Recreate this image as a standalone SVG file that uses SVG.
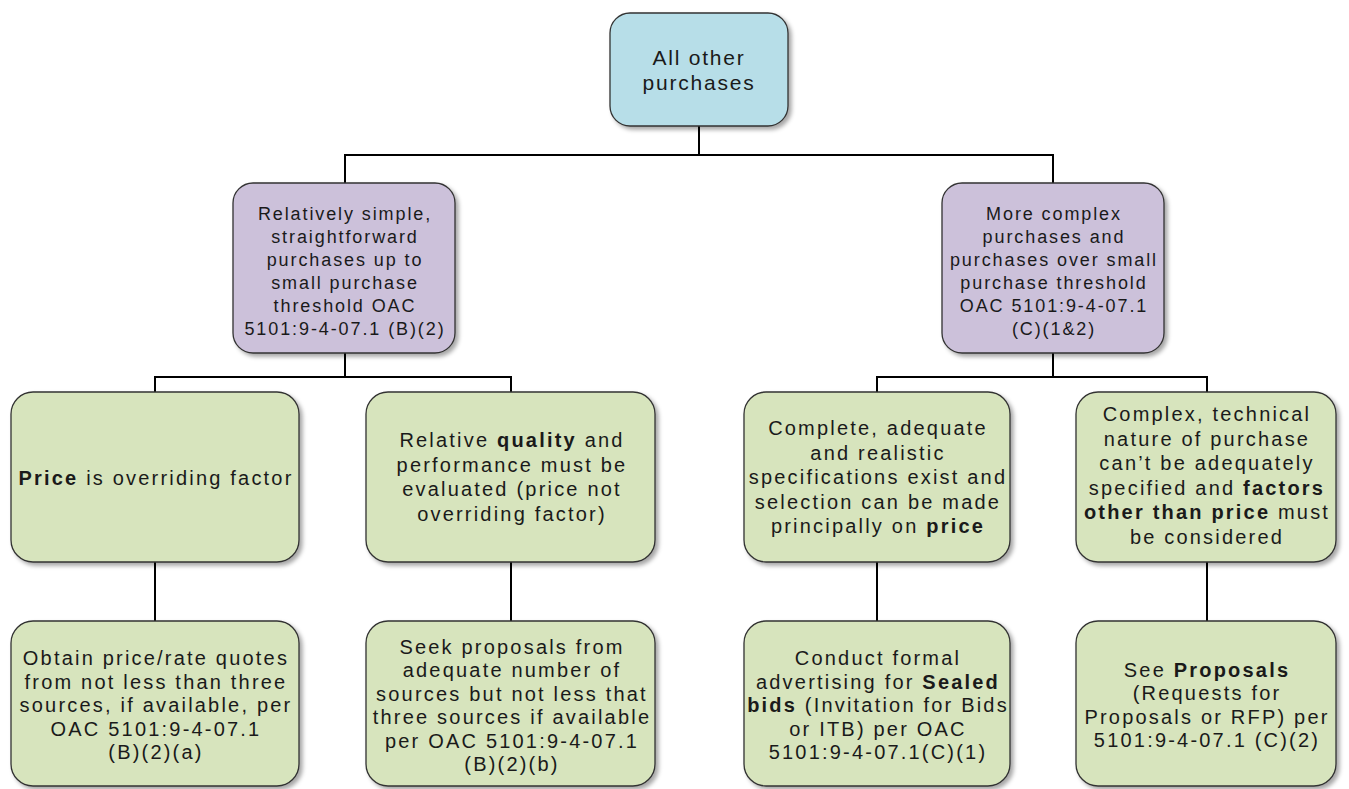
<svg xmlns="http://www.w3.org/2000/svg" width="1349" height="789" viewBox="0 0 1349 789">
<style>
.box{stroke:#333;stroke-width:1.3}
.top{fill:#B7DEE8}
.pur{fill:#CCC1DA}
.grn{fill:#D7E4BD}
text{font-family:"Liberation Sans",Arial,sans-serif;fill:#1a1a1a;text-anchor:middle}
.tt{font-size:21px;letter-spacing:1.8px}
.tp{font-size:18px;letter-spacing:1.9px}
.tg{font-size:20px;letter-spacing:2.2px}
.b{font-weight:bold}
.conn line{stroke:#000;stroke-width:2}
</style>
<defs>
<filter id="sh" x="-10%" y="-10%" width="130%" height="130%">
<feDropShadow dx="3" dy="3" stdDeviation="2" flood-color="#000" flood-opacity="0.35"/>
</filter>
</defs>
<g class="conn">
<line x1="699" y1="126" x2="699" y2="155"/>
<line x1="344" y1="155" x2="1054" y2="155"/>
<line x1="345" y1="155" x2="345" y2="183"/>
<line x1="1053" y1="155" x2="1053" y2="183"/>
<line x1="345" y1="353" x2="345" y2="377"/>
<line x1="154" y1="377" x2="512" y2="377"/>
<line x1="155" y1="376" x2="155" y2="392"/>
<line x1="511" y1="376" x2="511" y2="392"/>
<line x1="1053" y1="353" x2="1053" y2="377"/>
<line x1="876" y1="377" x2="1208" y2="377"/>
<line x1="877" y1="376" x2="877" y2="392"/>
<line x1="1207" y1="376" x2="1207" y2="392"/>
<line x1="155" y1="562" x2="155" y2="621"/>
<line x1="511" y1="562" x2="511" y2="621"/>
<line x1="877" y1="562" x2="877" y2="621"/>
<line x1="1207" y1="562" x2="1207" y2="621"/>
</g>
<g id="n-top">
<rect class="box top" filter="url(#sh)" x="610" y="13" width="178" height="113" rx="20"/>
<text class="tt" x="699" y="64.5">All other</text>
<text class="tt" x="699" y="89.5">purchases</text>
</g>
<g id="n-simple">
<rect class="box pur" filter="url(#sh)" x="233" y="183" width="222" height="170" rx="20"/>
<text class="tp" x="345" y="219.5">Relatively simple,</text>
<text class="tp" x="345" y="242.5">straightforward</text>
<text class="tp" x="345" y="265.5">purchases up to</text>
<text class="tp" x="345" y="288.5">small purchase</text>
<text class="tp" x="345" y="311.5">threshold OAC</text>
<text class="tp" x="345" y="334.5">5101:9-4-07.1 (B)(2)</text>
</g>
<g id="n-complex">
<rect class="box pur" filter="url(#sh)" x="942" y="183" width="222" height="170" rx="20"/>
<text class="tp" x="1054" y="219.5">More complex</text>
<text class="tp" x="1054" y="242.5">purchases and</text>
<text class="tp" x="1054" y="265.5">purchases over small</text>
<text class="tp" x="1054" y="288.5">purchase threshold</text>
<text class="tp" x="1054" y="311.5">OAC 5101:9-4-07.1</text>
<text class="tp" x="1054" y="334.5">(C)(1&amp;2)</text>
</g>
<g id="n-price">
<rect class="box grn" filter="url(#sh)" x="11" y="392" width="288" height="170" rx="22"/>
<text class="tg" x="156" y="485"><tspan class="b">Price</tspan> is overriding factor</text>
</g>
<g id="n-quality">
<rect class="box grn" filter="url(#sh)" x="366" y="392" width="289" height="170" rx="22"/>
<text class="tg" x="512" y="447">Relative <tspan class="b">quality</tspan> and</text>
<text class="tg" x="512" y="471.5">performance must be</text>
<text class="tg" x="512" y="496">evaluated (price not</text>
<text class="tg" x="512" y="520.5">overriding factor)</text>
</g>
<g id="n-specs">
<rect class="box grn" filter="url(#sh)" x="744" y="392" width="266" height="170" rx="22"/>
<text class="tg" x="878" y="435">Complete, adequate</text>
<text class="tg" x="878" y="459.5">and realistic</text>
<text class="tg" x="878" y="484">specifications exist and</text>
<text class="tg" x="878" y="508.5">selection can be made</text>
<text class="tg" x="878" y="533">principally on <tspan class="b">price</tspan></text>
</g>
<g id="n-technical">
<rect class="box grn" filter="url(#sh)" x="1076" y="392" width="260" height="170" rx="22"/>
<text class="tg" x="1207" y="421">Complex, technical</text>
<text class="tg" x="1207" y="445.5">nature of purchase</text>
<text class="tg" x="1207" y="470">can’t be adequately</text>
<text class="tg" x="1207" y="494.5">specified and <tspan class="b">factors</tspan></text>
<text class="tg" x="1207" y="519"><tspan class="b">other than price</tspan> must</text>
<text class="tg" x="1207" y="543.5">be considered</text>
</g>
<g id="n-quotes">
<rect class="box grn" filter="url(#sh)" x="11" y="621" width="288" height="165" rx="22"/>
<text class="tg" x="156" y="665">Obtain price/rate quotes</text>
<text class="tg" x="156" y="688.5">from not less than three</text>
<text class="tg" x="156" y="712">sources, if available, per</text>
<text class="tg" x="156" y="735.5">OAC 5101:9-4-07.1</text>
<text class="tg" x="156" y="759">(B)(2)(a)</text>
</g>
<g id="n-proposals-seek">
<rect class="box grn" filter="url(#sh)" x="366" y="621" width="289" height="165" rx="22"/>
<text class="tg" x="512" y="653.5">Seek proposals from</text>
<text class="tg" x="512" y="677">adequate number of</text>
<text class="tg" x="512" y="700.5">sources but not less that</text>
<text class="tg" x="512" y="724">three sources if available</text>
<text class="tg" x="512" y="747.5">per OAC 5101:9-4-07.1</text>
<text class="tg" x="512" y="771">(B)(2)(b)</text>
</g>
<g id="n-sealed">
<rect class="box grn" filter="url(#sh)" x="744" y="621" width="266" height="165" rx="22"/>
<text class="tg" x="878" y="665">Conduct formal</text>
<text class="tg" x="878" y="688.5">advertising for <tspan class="b">Sealed</tspan></text>
<text class="tg" x="878" y="712"><tspan class="b">bids</tspan> (Invitation for Bids</text>
<text class="tg" x="878" y="735.5">or ITB) per OAC</text>
<text class="tg" x="878" y="759">5101:9-4-07.1(C)(1)</text>
</g>
<g id="n-rfp">
<rect class="box grn" filter="url(#sh)" x="1076" y="621" width="260" height="165" rx="22"/>
<text class="tg" x="1207" y="676.5">See <tspan class="b">Proposals</tspan></text>
<text class="tg" x="1207" y="700">(Requests for</text>
<text class="tg" x="1207" y="723.5">Proposals or RFP) per</text>
<text class="tg" x="1207" y="747">5101:9-4-07.1 (C)(2)</text>
</g>
</svg>
